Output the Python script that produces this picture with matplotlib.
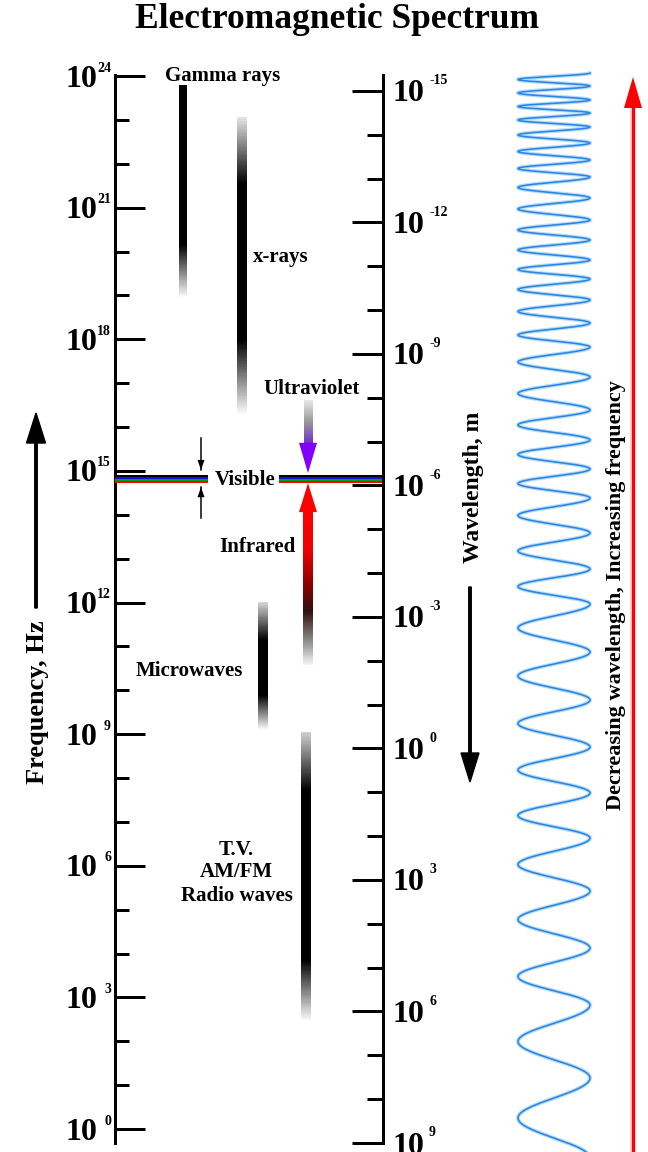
import numpy as np
import matplotlib
matplotlib.use("Agg")
import matplotlib.pyplot as plt
from matplotlib.colors import LinearSegmentedColormap, Normalize
from matplotlib.patches import Polygon, FancyArrow
from matplotlib.ticker import FixedLocator, NullFormatter

# ---------------- data ----------------
# frequency axis (Hz, log10 exponents)
freq_major_exp = [0, 3, 6, 9, 12, 15, 18, 21, 24]
freq_minor_exp = [1, 2, 4, 5, 7, 8, 10, 11, 13, 14, 16, 17, 19, 20, 22, 23]
# wavelength axis (m, log10 exponents)
wl_major_exp = [-15, -12, -9, -6, -3, 0, 3, 6, 9]
wl_minor_exp = [-14, -13, -11, -10, -8, -7, -5, -4, -2, -1, 1, 2, 4, 5, 7, 8]

# gradient bands, log10(frequency in Hz)
band_names = ["Gamma rays", "x-rays", "Microwaves", "Radio waves"]
band_top = [23.79, 23.07, 12.01, 9.05]           # faint upper end
band_solid_top = [23.79, 21.56, 11.15, 7.73]     # start of solid black
band_solid_bottom = [20.15, 17.98, 9.89, 3.85]   # end of solid black
band_bottom = [18.94, 16.27, 9.09, 2.44]         # faint lower end

# visible band lines, log10(Hz)
visible_log_f = [14.875, 14.83, 14.785, 14.74]
visible_colors = ["#000000", "#1010e0", "#00a000", "#ff0000"]

# ultraviolet arrow (tail, head base, tip) and infrared arrow (tail, head base, tip), log10(Hz)
uv_log_f = [16.62, 15.64, 14.95]
ir_log_f = [10.58, 14.06, 14.72]

# small bracket arrows around the visible band (tail, tip), log10(Hz)
bracket_top = [15.75, 15.02]
bracket_bottom = [13.93, 14.63]

# labels: text, log10(Hz) position
label_texts = ["Gamma rays", "x-rays", "Ultraviolet", "Visible", "Infrared",
               "Microwaves", "T.V.", "AM/FM", "Radio waves"]
label_log_f = [24.0, 19.875, 16.87, 14.80, 13.255, 10.43, 6.37, 5.85, 5.32]

# illustrative wave: y positions (px) of the right-hand crests
wave_crest_px = [73, 86, 100, 113, 127, 143, 160, 177, 198, 220, 240, 260, 279,
                 300, 323, 347, 377, 410, 440, 469, 498, 533, 569, 604, 652, 700,
                 747, 793, 838, 891, 948, 1005, 1078, 1158]

# ---------------- style / layout ----------------
plt.rcParams["font.family"] = ["Liberation Serif", "DejaVu Serif"]
plt.rcParams["font.weight"] = "bold"

W, H = 648, 1152
fig = plt.figure(figsize=(W / 100, H / 100), dpi=100)
fig.patch.set_facecolor("white")

ax_px = fig.add_axes([0, 0, 1, 1])
ax_px.set_xlim(0, W)
ax_px.set_ylim(H, 0)
ax_px.axis("off")

ax_f = fig.add_axes([115 / W, 1 - 1143 / H, 268 / W, 1068 / H])
ax_f.set_facecolor("none")
ax_f.set_yscale("log")
ax_f.set_ylim(10 ** -0.319, 10 ** 24.023)
ax_f.set_xlim(115, 383)
ax_w = ax_f.twinx()
ax_w.set_yscale("log")
ax_w.set_ylim(10 ** 9.0, 10 ** -15.365)

PX = 0.72  # points per pixel
for a in (ax_f, ax_w):
    for s in a.spines.values():
        s.set_visible(False)
    a.set_xticks([])
ax_f.spines["left"].set_visible(True)
ax_f.spines["left"].set_linewidth(3 * PX)
ax_w.spines["right"].set_visible(True)
ax_w.spines["right"].set_linewidth(3 * PX)

ax_f.yaxis.set_major_locator(FixedLocator([10.0 ** e for e in freq_major_exp]))
ax_f.yaxis.set_minor_locator(FixedLocator([10.0 ** e for e in freq_minor_exp]))
ax_f.yaxis.set_major_formatter(NullFormatter())
ax_f.yaxis.set_minor_formatter(NullFormatter())
ax_f.tick_params(axis="y", which="major", direction="in", length=30 * PX, width=3 * PX, left=True, right=False)
ax_f.tick_params(axis="y", which="minor", direction="in", length=14 * PX, width=3 * PX, left=True, right=False)

ax_w.yaxis.set_major_locator(FixedLocator([10.0 ** e for e in wl_major_exp]))
ax_w.yaxis.set_minor_locator(FixedLocator([10.0 ** e for e in wl_minor_exp]))
ax_w.yaxis.set_major_formatter(NullFormatter())
ax_w.yaxis.set_minor_formatter(NullFormatter())
ax_w.tick_params(axis="y", which="major", direction="in", length=31 * PX, width=3 * PX, right=True, left=False)
ax_w.tick_params(axis="y", which="minor", direction="in", length=16 * PX, width=3 * PX, right=True, left=False)

BIG, SUP = 23, 10
for e in freq_major_exp:
    ax_f.annotate("10", xy=(0, 10.0 ** e), xycoords=("axes fraction", "data"),
                  xytext=(-18, -3), textcoords="offset pixels", ha="right", va="center",
                  fontsize=BIG, fontweight="bold")
    ax_f.annotate(str(e), xy=(0, 10.0 ** e), xycoords=("axes fraction", "data"),
                  xytext=(-4, 8), textcoords="offset pixels", ha="right", va="center",
                  fontsize=SUP, fontweight="bold")
for e in wl_major_exp:
    ax_w.annotate("10", xy=(1, 10.0 ** e), xycoords=("axes fraction", "data"),
                  xytext=(9, -3), textcoords="offset pixels", ha="left", va="center",
                  fontsize=BIG, fontweight="bold")
    ax_w.annotate(str(e), xy=(1, 10.0 ** e), xycoords=("axes fraction", "data"),
                  xytext=(46, 10), textcoords="offset pixels", ha="left", va="center",
                  fontsize=SUP, fontweight="bold")


def gradient_bar(ax, xc, w, stops, z=2):
    st = sorted(stops)
    lo, hi = st[0][0], st[-1][0]
    cmap = LinearSegmentedColormap.from_list("g", [((L - lo) / (hi - lo), c) for L, c in st])
    edges = np.linspace(lo, hi, 400)
    mids = 0.5 * (edges[1:] + edges[:-1])
    ax.pcolormesh([xc - w / 2, xc + w / 2], 10 ** edges, mids[:, None], cmap=cmap,
                  norm=Normalize(lo, hi), shading="flat", antialiased=False,
                  linewidth=0, zorder=z)


band_x = [183, 242, 263, 306]
band_w = [8, 10, 10, 10]
band_top_color = ["#000000", "#e4e4e4", "#d4d4d4", "#cfcfcf"]
for i in range(len(band_names)):
    gradient_bar(ax_f, band_x[i], band_w[i], [
        (band_top[i], band_top_color[i]),
        (band_solid_top[i], "#000000"),
        (band_solid_bottom[i], "#000000"),
        (band_bottom[i], "#ffffff"),
    ])

# visible lines
for L, c in zip(visible_log_f, visible_colors):
    ax_f.hlines(10 ** L, 115, 208, colors=c, lw=2 * PX, zorder=3)
    ax_f.hlines(10 ** L, 279, 383, colors=c, lw=2 * PX, zorder=3)

# ultraviolet arrow
AX = 308
gradient_bar(ax_f, AX, 9, [(uv_log_f[0], "#e8e8e8"), ((uv_log_f[0] + uv_log_f[1]) / 2, "#9a9a9a"),
                           (uv_log_f[1], "#7030c8")], z=2)
ax_f.add_patch(Polygon([[AX - 9, 10 ** uv_log_f[1]], [AX + 9, 10 ** uv_log_f[1]], [AX, 10 ** uv_log_f[2]]],
                       closed=True, facecolor="#7f00ff", edgecolor="none", zorder=4))
# infrared arrow
gradient_bar(ax_f, AX, 10, [(ir_log_f[1], "#ff0000"), (13.2, "#ee0000"), (12.45, "#900000"),
                            (11.8, "#301010"), (11.1, "#909090"), (ir_log_f[0], "#f4f4f4")], z=2)
ax_f.add_patch(Polygon([[AX - 9, 10 ** ir_log_f[1]], [AX + 9, 10 ** ir_log_f[1]], [AX, 10 ** ir_log_f[2]]],
                       closed=True, facecolor="#ff0000", edgecolor="none", zorder=4))

# bracket arrows
BX = 201
for tail, tip in (bracket_top, bracket_bottom):
    ax_f.plot([BX, BX], [10 ** tail, 10 ** tip], color="black", lw=1.5 * PX, zorder=4)
    hl = 0.23 if tip < tail else -0.23
    ax_f.add_patch(Polygon([[BX - 3.5, 10 ** (tip + hl)], [BX + 3.5, 10 ** (tip + hl)], [BX, 10 ** tip]],
                           closed=True, facecolor="black", edgecolor="none", zorder=4))

# band labels
label_x = [223, 281, 312, 245, 257, 189, 236, 236, 237]
for t, L, x in zip(label_texts, label_log_f, label_x):
    ax_f.text(x, 10 ** L, t, ha="center", va="center", fontsize=15, fontweight="bold",
              zorder=5, clip_on=False)

# title
fig.text(337 / W, 1 - 19 / H, "Electromagnetic Spectrum", ha="center", va="center",
         fontsize=25.5, fontweight="bold")

# axis titles with arrows
ax_px.text(38, 702, "Frequency, Hz", rotation=90, ha="center", va="center", fontsize=19, fontweight="bold")
ax_px.add_patch(FancyArrow(36, 608, 0, 413 - 608, width=2.5, head_width=19, head_length=30,
                           length_includes_head=True, color="black"))
ax_px.text(473, 487, "Wavelength, m", rotation=90, ha="center", va="center", fontsize=17, fontweight="bold")
ax_px.add_patch(FancyArrow(470, 587, 0, 782 - 587, width=2.5, head_width=18, head_length=29,
                           length_includes_head=True, color="black"))

# wave
crest = np.array(wave_crest_px, dtype=float)
yy = np.linspace(crest[0], H, 4000)
phase = np.interp(yy, crest, 2 * np.pi * np.arange(len(crest)))
xx = 554 + 36 * np.cos(phase)
ax_px.plot(xx, yy, color="#b3dafa", lw=4 * PX, alpha=0.9, solid_capstyle="round")
ax_px.plot(xx, yy, color="#2a86e2", lw=1.6 * PX)

# red arrow
ax_px.plot([633, 633], [H, 100], color="#ffc4c4", lw=5.5 * PX, zorder=2)
ax_px.plot([633, 633], [H, 100], color="#ff0000", lw=3 * PX, zorder=3)
ax_px.add_patch(Polygon([[624, 108], [642, 108], [633, 77]], closed=True,
                        facecolor="#ff0000", edgecolor="none", zorder=3))
ax_px.text(616, 595, "Decreasing wavelength, Increasing frequency", rotation=90,
           ha="center", va="center", fontsize=16, fontweight="bold")

fig.savefig("out.png", dpi=100, facecolor="white")
